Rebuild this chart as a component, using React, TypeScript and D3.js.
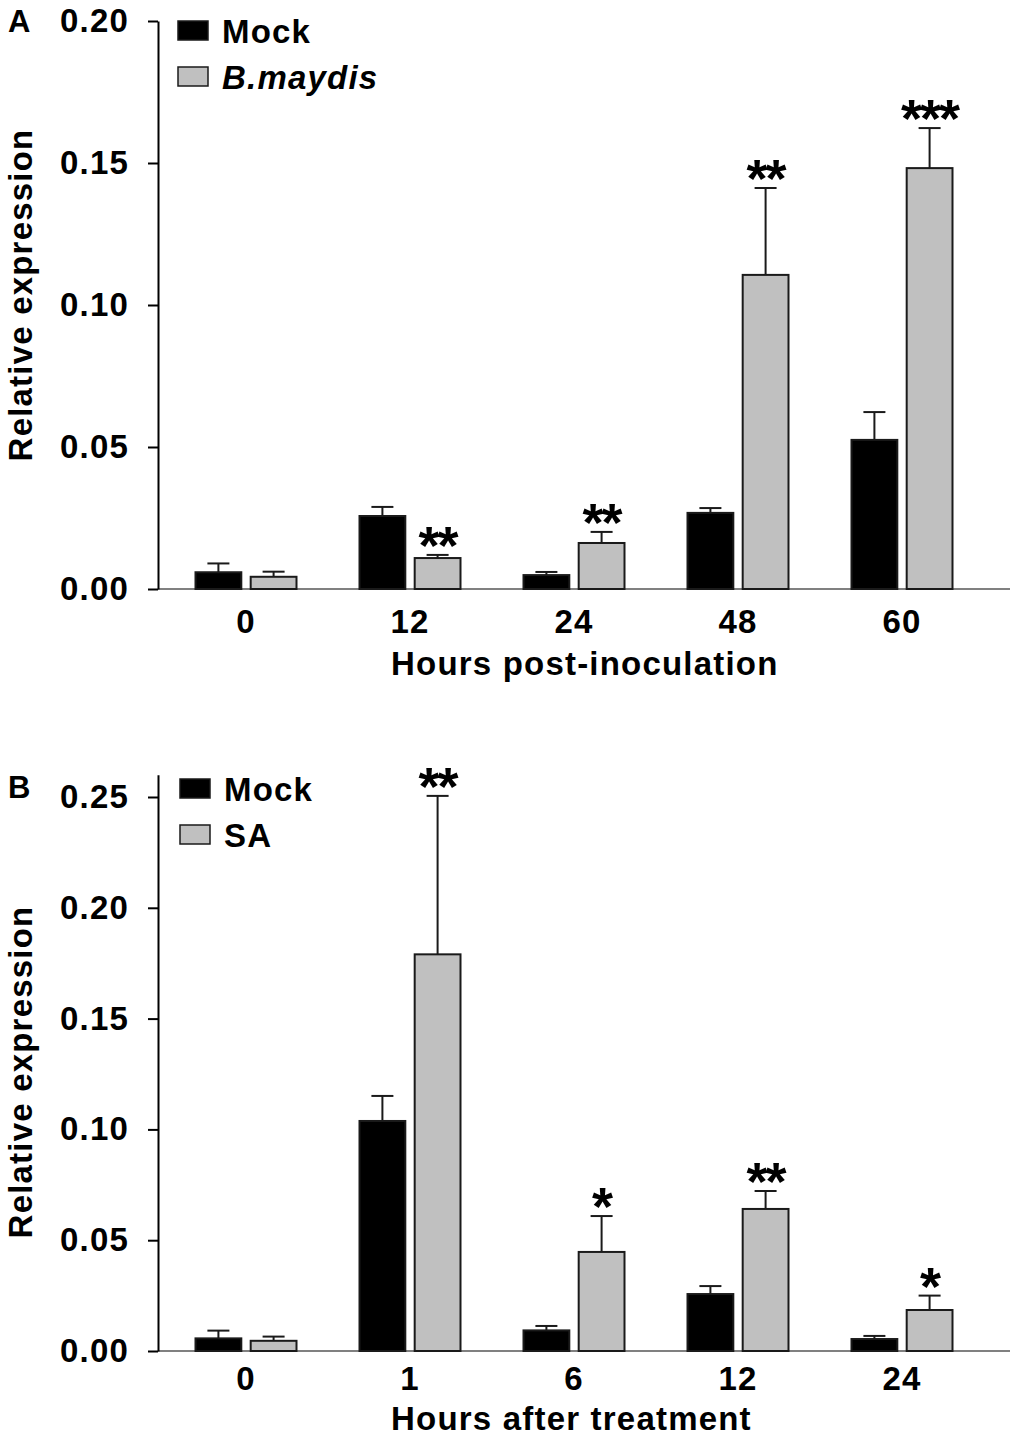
import React, { useEffect, useRef } from 'react';
import * as d3 from 'd3';

// panel A: hours post-inoculation
const timesA = ['0', '12', '24', '48', '60'];
const mockA = [0.0059, 0.0257, 0.0049, 0.0268, 0.0525];
const mockAErr = [0.0031, 0.0032, 0.0011, 0.0017, 0.0098];
const maydisA = [0.0043, 0.0109, 0.0162, 0.1106, 0.1482];
const maydisAErr = [0.0018, 0.0011, 0.0039, 0.0306, 0.0141];
const starsA = ['', '**', '**', '**', '***'];
const ticksA = [0, 0.05, 0.1, 0.15, 0.2];

// panel B: hours after SA treatment
const timesB = ['0', '1', '6', '12', '24'];
const mockB = [0.0057, 0.1038, 0.0093, 0.0257, 0.0054];
const mockBErr = [0.0035, 0.0113, 0.0020, 0.0036, 0.0014];
const saB = [0.0046, 0.179, 0.0447, 0.0641, 0.0185];
const saBErr = [0.0019, 0.0715, 0.0162, 0.0081, 0.0065];
const starsB = ['', '**', '*', '**', '*'];
const ticksB = [0, 0.05, 0.1, 0.15, 0.2, 0.25];

const FONT = '"Liberation Sans", Arial, Helvetica, sans-serif';
const GREY = '#c0c0c0';

type Cfg = {
    letter: string;
    times: string[];
    mock: number[];
    mockErr: number[];
    treat: number[];
    treatErr: number[];
    stars: string[];
    ticks: number[];
    yMax: number;
    y0: number;
    pxPerUnit: number;
    treatName: string;
    italic: boolean;
    xTitle: string;
    tickBaseline: number;
    titleBaseline: number;
    yTitleCenter: number;
    legendTop: number;
    legendX: number;
    letterBaseline: number;
};

function drawPanel(svg: d3.Selection<SVGSVGElement, unknown, null, undefined>, c: Cfg) {
    const g = svg.append('g');
    const x = d3.scaleBand().domain(c.times).range([164, 984]);
    const x1 = d3.scaleBand().domain(['mock', 'treat']).range([-50.5, 50.5]).paddingInner(0.17);
    const y = d3.scaleLinear().domain([0, c.yMax]).range([c.y0, c.y0 - c.yMax * c.pxPerUnit]);
    const cx = (t: string) => x(t)! + x.bandwidth() / 2;

    // x axis: grey baseline, labels only
    g.append('line')
        .attr('x1', 158).attr('x2', 1010)
        .attr('y1', y(0)).attr('y2', y(0))
        .attr('stroke', '#808080').attr('stroke-width', 2);
    const xa = g.append('g').attr('transform', `translate(0,${y(0)})`)
        .call(d3.axisBottom(x).tickSize(0));
    xa.select('.domain').remove();
    xa.selectAll('text')
        .attr('dy', null)
        .attr('y', c.tickBaseline - c.y0)
        .attr('font-family', FONT).attr('font-weight', 'bold')
        .attr('font-size', 33).attr('letter-spacing', 1.2).attr('fill', '#000');

    // y axis
    const ya = g.append('g').attr('transform', 'translate(158,0)')
        .call(d3.axisLeft(y).tickValues(c.ticks).tickFormat(d3.format('.2f'))
            .tickSize(10).tickSizeOuter(0).tickPadding(19));
    ya.select('.domain').attr('stroke', '#000').attr('stroke-width', 2);
    ya.selectAll('.tick line').attr('stroke', '#000').attr('stroke-width', 2);
    ya.selectAll('text')
        .attr('font-family', FONT).attr('font-weight', 'bold')
        .attr('font-size', 33).attr('letter-spacing', 1.2).attr('fill', '#000');

    // bars
    const series = [
        { key: 'mock', vals: c.mock, errs: c.mockErr, fill: '#000' },
        { key: 'treat', vals: c.treat, errs: c.treatErr, fill: GREY },
    ];
    series.forEach(s => {
        const bx = (t: string) => cx(t) + x1(s.key)!;
        const gs = g.append('g');
        gs.selectAll('line.err').data(c.times).join('line')
            .attr('class', 'err')
            .attr('x1', (t) => bx(t) + x1.bandwidth() / 2)
            .attr('x2', (t) => bx(t) + x1.bandwidth() / 2)
            .attr('y1', (t, i) => y(s.vals[i]))
            .attr('y2', (t, i) => y(s.vals[i] + s.errs[i]))
            .attr('stroke', '#1a1a1a').attr('stroke-width', 2);
        gs.selectAll('line.cap').data(c.times).join('line')
            .attr('class', 'cap')
            .attr('x1', (t) => bx(t) + x1.bandwidth() / 2 - 11)
            .attr('x2', (t) => bx(t) + x1.bandwidth() / 2 + 11)
            .attr('y1', (t, i) => y(s.vals[i] + s.errs[i]))
            .attr('y2', (t, i) => y(s.vals[i] + s.errs[i]))
            .attr('stroke', '#1a1a1a').attr('stroke-width', 2);
        gs.selectAll('rect').data(c.times).join('rect')
            .attr('x', (t) => bx(t))
            .attr('y', (t, i) => y(s.vals[i]))
            .attr('width', x1.bandwidth())
            .attr('height', (t, i) => y(0) - y(s.vals[i]))
            .attr('fill', s.fill)
            .attr('stroke', '#1a1a1a').attr('stroke-width', 2);
    });

    // significance stars over treated bars
    g.selectAll('text.star').data(c.times).join('text')
        .attr('class', 'star')
        .attr('x', (t) => cx(t) + x1('treat')! + x1.bandwidth() / 2)
        .attr('y', (t, i) => y(c.treat[i] + c.treatErr[i]) + 9)
        .attr('text-anchor', 'middle')
        .attr('font-family', FONT).attr('font-weight', 'bold').attr('font-size', 54)
        .attr('letter-spacing', -2)
        .text((t, i) => c.stars[i]);

    // titles
    g.append('text')
        .attr('x', 391).attr('y', c.titleBaseline)
        .attr('font-family', FONT).attr('font-weight', 'bold')
        .attr('font-size', 33).attr('letter-spacing', 1.2)
        .text(c.xTitle);
    g.append('text')
        .attr('transform', `translate(32,${c.yTitleCenter}) rotate(-90)`)
        .attr('text-anchor', 'middle')
        .attr('font-family', FONT).attr('font-weight', 'bold')
        .attr('font-size', 33).attr('letter-spacing', 1.2)
        .text('Relative expression');
    g.append('text')
        .attr('x', 8).attr('y', c.letterBaseline)
        .attr('font-family', FONT).attr('font-weight', 'bold').attr('font-size', 31)
        .text(c.letter);

    // legend
    const leg = [
        { name: 'Mock', fill: '#000', italic: false },
        { name: c.treatName, fill: GREY, italic: c.italic },
    ];
    leg.forEach((l, i) => {
        const top = c.legendTop + i * 46;
        g.append('rect')
            .attr('x', c.legendX).attr('y', top)
            .attr('width', 30).attr('height', 19)
            .attr('fill', l.fill).attr('stroke', '#1a1a1a').attr('stroke-width', 1.5);
        g.append('text')
            .attr('x', c.legendX + 44).attr('y', top + 22)
            .attr('font-family', FONT).attr('font-weight', 'bold')
            .attr('font-style', l.italic ? 'italic' : 'normal')
            .attr('font-size', 33).attr('letter-spacing', 1.2)
            .text(l.name);
    });
}

export default function App() {
    const ref = useRef<SVGSVGElement | null>(null);
    useEffect(() => {
        const svg = d3.select(ref.current!);
        svg.selectAll('*').remove();
        drawPanel(svg, {
            letter: 'A', times: timesA, mock: mockA, mockErr: mockAErr,
            treat: maydisA, treatErr: maydisAErr, stars: starsA, ticks: ticksA,
            yMax: 0.2, y0: 589, pxPerUnit: 2840, treatName: 'B.maydis', italic: true,
            xTitle: 'Hours post-inoculation', tickBaseline: 633, titleBaseline: 675,
            yTitleCenter: 295, legendTop: 21, legendX: 178, letterBaseline: 32,
        });
        drawPanel(svg, {
            letter: 'B', times: timesB, mock: mockB, mockErr: mockBErr,
            treat: saB, treatErr: saBErr, stars: starsB, ticks: ticksB,
            yMax: 0.26, y0: 1351, pxPerUnit: 2216, treatName: 'SA', italic: false,
            xTitle: 'Hours after treatment', tickBaseline: 1390, titleBaseline: 1430,
            yTitleCenter: 1072, legendTop: 779, legendX: 180, letterBaseline: 798,
        });
    }, []);
    return (
        <svg ref={ref} width={1015} height={1437}
            style={{ position: 'absolute', left: 0, top: 0, background: '#fff' }} />
    );
}
